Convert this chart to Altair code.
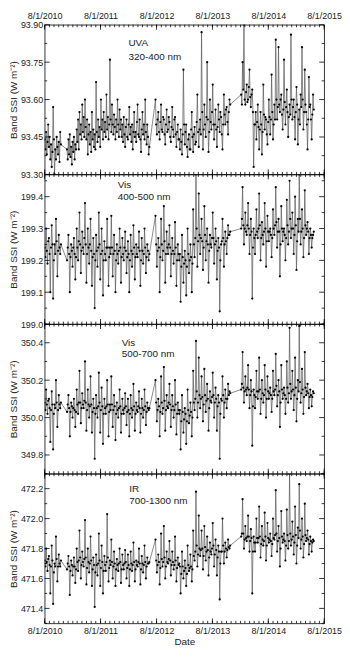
import altair as alt
import pandas as pd

FONT = "Liberation Sans"
W, H = 282, 151

# Observation segments (start, end) - data gaps between them
segments = [("2010-08-01", "2010-11-15"), ("2010-12-25", "2012-06-15"),
            ("2012-07-25", "2013-11-25"), ("2014-02-05", "2015-05-25")]

# ---- UVA 320-400 nm (W m-2) ----
uva_a = [93.44, 93.40, 93.47, 93.38, 93.43, 93.50, 93.41, 93.45, 93.36, 93.42, 93.33, 93.39, 93.57, 93.44, 93.30, 93.40,
         93.36, 93.45, 93.41, 93.38, 93.43, 93.35, 93.47, 93.42]
uva_b = [93.40, 93.36, 93.44, 93.38, 93.46, 93.37, 93.41, 93.34, 93.43, 93.39, 93.45, 93.36, 93.42, 93.40,
         93.48, 93.43, 93.52, 93.40, 93.55, 93.46, 93.50, 93.44, 93.58, 93.47, 93.53, 93.45, 93.60, 93.49, 93.44, 93.52,
         93.38, 93.46, 93.50, 93.42, 93.47, 93.39, 93.55, 93.44, 93.48, 93.41,
         93.46, 93.40, 93.67, 93.47, 93.43, 93.52, 93.45, 93.49, 93.41, 93.60, 93.48, 93.52, 93.44, 93.55, 93.47, 93.51,
         93.45, 93.62, 93.48, 93.53, 93.44, 93.50, 93.76, 93.52,
         93.47, 93.58, 93.50, 93.46, 93.54, 93.49, 93.44, 93.52, 93.47, 93.60, 93.50, 93.45, 93.56, 93.48, 93.52, 93.45,
         93.50, 93.43, 93.53, 93.46, 93.41, 93.49, 93.52, 93.45,
         93.44, 93.50, 93.57, 93.46, 93.49, 93.43, 93.50, 93.40, 93.47, 93.55, 93.45, 93.47, 93.43, 93.51, 93.58, 93.46,
         93.45, 93.52, 93.44, 93.39, 93.48, 93.55, 93.46, 93.50, 93.44, 93.60, 93.47, 93.42, 93.50, 93.45, 93.38, 93.41]
uva_c = [93.60, 93.50, 93.46, 93.52, 93.55, 93.47, 93.44, 93.51, 93.58, 93.48, 93.47, 93.53, 93.52, 93.46, 93.42, 93.50,
         93.56, 93.47, 93.48, 93.53, 93.51, 93.45, 93.43, 93.49, 93.57, 93.48, 93.45, 93.52, 93.53, 93.46, 93.41, 93.47,
         93.50, 93.44,
         93.44, 93.40, 93.48, 93.43, 93.38, 93.46, 93.72, 93.50, 93.42, 93.47, 93.50, 93.41, 93.37, 93.44, 93.46, 93.40,
         93.40, 93.48, 93.55, 93.45, 93.39, 93.46, 93.49, 93.42, 93.43, 93.51, 93.62, 93.47, 93.41, 93.48,
         93.52, 93.46, 93.87, 93.55, 93.40, 93.48, 93.58, 93.50, 93.45, 93.53, 93.75, 93.52, 93.39, 93.47, 93.60, 93.51,
         93.48, 93.55, 93.66, 93.50,
         93.44, 93.50, 93.56, 93.48, 93.41, 93.49, 93.58, 93.52, 93.47, 93.55, 93.53, 93.46, 93.40, 93.50, 93.62, 93.54,
         93.50, 93.56, 93.57, 93.51, 93.46, 93.55, 93.60, 93.58]
uva_d = [93.62, 93.58, 93.75, 93.64, 93.90, 93.60, 93.58, 93.63, 93.66, 93.59, 93.60, 93.65, 93.72, 93.61, 93.57, 93.62,
         93.64, 93.55, 93.33, 93.50,
         93.50, 93.55, 93.44, 93.51, 93.58, 93.49, 93.40, 93.48, 93.55, 93.50, 93.38, 93.47, 93.66, 93.54, 93.48, 93.53,
         93.52, 93.46, 93.42, 93.51, 93.60, 93.53, 93.46, 93.52, 93.70, 93.55, 93.44, 93.50,
         93.58, 93.52, 93.84, 93.60, 93.52, 93.57, 93.81, 93.58, 93.55, 93.60, 93.62, 93.54, 93.48, 93.56, 93.76, 93.59,
         93.50, 93.57, 93.64, 93.55, 93.45, 93.53, 93.58, 93.54, 93.86, 93.60,
         93.52, 93.57, 93.60, 93.53, 93.44, 93.55, 93.65, 93.58, 93.42, 93.52, 93.56, 93.50, 93.62, 93.57, 93.81, 93.60,
         93.48, 93.55, 93.72, 93.58, 93.55, 93.50, 93.40, 93.52, 93.69, 93.57, 93.58, 93.52, 93.44, 93.54, 93.62, 93.56]

# ---- Vis 400-500 nm ----
vb_a = [199.24, 199.21, 199.30, 199.23, 199.19, 199.26, 199.27, 199.22, 199.10, 199.24, 199.31, 199.25, 199.08, 199.20,
        199.25, 199.22, 199.33, 199.26, 199.15, 199.23, 199.28, 199.24, 199.22, 199.25]
vb_b = [199.20, 199.24, 199.28, 199.22, 199.10, 199.21, 199.25, 199.23, 199.18, 199.24, 199.27, 199.22, 199.14, 199.21,
        199.30, 199.24, 199.20, 199.26, 199.35, 199.25, 199.16, 199.23, 199.29, 199.24, 199.22, 199.27, 199.38, 199.25,
        199.13, 199.22, 199.30, 199.24, 199.19, 199.25, 199.33, 199.23, 199.12, 199.21, 199.27, 199.22,
        199.05, 199.20, 199.28, 199.23, 199.18, 199.24, 199.35, 199.25, 199.14, 199.22, 199.30, 199.23, 199.09, 199.20,
        199.26, 199.22, 199.20, 199.24, 199.33, 199.24, 199.12, 199.21, 199.24, 199.22,
        199.34, 199.24, 199.15, 199.22, 199.28, 199.23, 199.10, 199.20, 199.25, 199.22, 199.19, 199.23, 199.30, 199.24,
        199.13, 199.21, 199.27, 199.22, 199.20, 199.24, 199.29, 199.23, 199.16, 199.21,
        199.26, 199.22, 199.10, 199.20, 199.28, 199.23, 199.18, 199.22, 199.31, 199.24, 199.14, 199.21, 199.25, 199.22,
        199.21, 199.24, 199.29, 199.23, 199.12, 199.20, 199.27, 199.23, 199.19, 199.22, 199.30, 199.24, 199.16, 199.21,
        199.25, 199.23, 199.20, 199.22]
vb_c = [199.34, 199.25, 199.18, 199.23, 199.27, 199.24, 199.10, 199.21, 199.33, 199.25, 199.20, 199.23, 199.37, 199.26,
        199.13, 199.22, 199.29, 199.24, 199.22, 199.25, 199.31, 199.24, 199.15, 199.22, 199.27, 199.23, 199.19, 199.22,
        199.32, 199.24, 199.12, 199.20, 199.25, 199.22,
        199.20, 199.22, 199.07, 199.18, 199.28, 199.21, 199.13, 199.19, 199.23, 199.20, 199.09, 199.18, 199.30, 199.22,
        199.16, 199.20, 199.25, 199.21, 199.10, 199.19, 199.36, 199.25, 199.21, 199.27, 199.47, 199.30, 199.18, 199.26,
        199.41, 199.28,
        199.22, 199.27, 199.33, 199.26, 199.17, 199.24, 199.37, 199.28, 199.20, 199.26, 199.30, 199.25, 199.13, 199.23,
        199.28, 199.25, 199.24, 199.27, 199.35, 199.27,
        199.19, 199.25, 199.30, 199.26, 199.14, 199.23, 199.27, 199.24, 199.04, 199.20, 199.25, 199.26, 199.33, 199.27,
        199.18, 199.25, 199.29, 199.26, 199.22, 199.27, 199.31, 199.28, 199.28, 199.29]
vb_d = [199.30, 199.33, 199.43, 199.31, 199.25, 199.30, 199.35, 199.29, 199.28, 199.31, 199.38, 199.30, 199.22, 199.28,
        199.33, 199.29, 199.08, 199.24, 199.30, 199.27,
        199.22, 199.28, 199.36, 199.29, 199.27, 199.30, 199.41, 199.31, 199.20, 199.27, 199.32, 199.28, 199.25, 199.29,
        199.38, 199.30, 199.18, 199.26, 199.34, 199.29, 199.26, 199.29, 199.30, 199.28, 199.21, 199.27, 199.36, 199.30,
        199.28, 199.31, 199.43, 199.32, 199.24, 199.29, 199.33, 199.29, 199.15, 199.25, 199.37, 199.30, 199.26, 199.29,
        199.30, 199.28, 199.20, 199.27, 199.39, 199.31, 199.25, 199.29, 199.45, 199.33, 199.27, 199.30,
        199.35, 199.30, 199.22, 199.28, 199.40, 199.31, 199.17, 199.26, 199.33, 199.29, 199.47, 199.33, 199.25, 199.29,
        199.36, 199.30, 199.21, 199.27, 199.42, 199.31, 199.28, 199.30, 199.32, 199.29, 199.22, 199.27, 199.30, 199.28,
        199.24, 199.27, 199.28, 199.29]

# ---- Vis 500-700 nm ----
vr_a = [350.08, 350.04, 350.15, 350.07, 350.02, 350.09, 350.10, 350.05, 349.87, 350.04, 350.14, 350.07, 349.83, 350.02,
        350.07, 350.05, 350.20, 350.08, 349.95, 350.04, 350.12, 350.07, 350.05, 350.08]
vr_b = [350.03, 350.07, 350.12, 350.05, 349.90, 350.03, 350.08, 350.06, 350.00, 350.05, 350.10, 350.04, 349.95, 350.03,
        350.15, 350.07, 350.02, 350.08, 350.25, 350.08, 349.97, 350.05, 350.13, 350.07, 350.05, 350.09, 350.30, 350.08,
        349.93, 350.04, 350.15, 350.07, 350.00, 350.06, 350.22, 350.07, 349.92, 350.03, 350.10, 350.05,
        349.78, 350.02, 350.12, 350.05, 350.00, 350.06, 350.24, 350.08, 349.92, 350.04, 350.16, 350.06, 349.86, 350.02,
        350.10, 350.05, 350.02, 350.06, 350.20, 350.07, 349.90, 350.03, 350.07, 350.04,
        350.22, 350.07, 349.95, 350.04, 350.12, 350.06, 349.88, 350.02, 350.08, 350.04, 350.00, 350.05, 350.15, 350.06,
        349.92, 350.02, 350.10, 350.04, 350.02, 350.05, 350.13, 350.06, 349.96, 350.03,
        350.10, 350.04, 349.90, 350.02, 350.12, 350.05, 350.00, 350.04, 350.18, 350.06, 349.93, 350.02, 350.08, 350.04,
        350.03, 350.06, 350.14, 350.05, 349.92, 350.02, 350.10, 350.05, 350.00, 350.04, 350.15, 350.06, 349.96, 350.03,
        350.08, 350.05, 350.04, 350.05]
vr_c = [350.20, 350.08, 349.98, 350.04, 350.10, 350.06, 349.90, 350.03, 350.22, 350.08, 350.02, 350.05, 350.27, 350.09,
        349.93, 350.04, 350.12, 350.06, 350.05, 350.08, 350.18, 350.07, 349.95, 350.04, 350.12, 350.06, 350.00, 350.04,
        350.20, 350.07, 349.91, 350.02, 350.08, 350.04,
        350.02, 350.04, 349.83, 349.98, 350.12, 350.03, 349.92, 349.99, 350.05, 350.02, 349.86, 349.98, 350.15, 350.04,
        349.97, 350.01, 350.08, 350.03, 349.90, 350.00, 350.25, 350.08, 350.04, 350.10, 350.41, 350.14, 350.00, 350.08,
        350.32, 350.12,
        350.05, 350.10, 350.22, 350.11, 349.98, 350.07, 350.26, 350.12, 350.03, 350.09, 350.18, 350.10, 349.93, 350.05,
        350.14, 350.09, 350.08, 350.11, 350.24, 350.12,
        350.00, 350.08, 350.16, 350.10, 349.93, 350.06, 350.12, 350.08, 349.78, 350.02, 350.10, 350.09, 350.22, 350.12,
        350.00, 350.08, 350.15, 350.10, 350.05, 350.10, 350.18, 350.12, 350.14, 350.13]
vr_d = [350.15, 350.18, 350.35, 350.16, 350.08, 350.14, 350.22, 350.15, 350.12, 350.16, 350.28, 350.15, 350.05, 350.12,
        350.20, 350.14, 349.85, 350.06, 350.15, 350.12,
        350.05, 350.11, 350.25, 350.14, 350.10, 350.14, 350.32, 350.15, 350.02, 350.10, 350.20, 350.13, 350.08, 350.12,
        350.28, 350.15, 350.00, 350.10, 350.22, 350.14, 350.10, 350.13, 350.16, 350.12, 350.03, 350.10, 350.25, 350.14,
        350.12, 350.15, 350.34, 350.17, 350.06, 350.12, 350.20, 350.14, 349.95, 350.08, 350.28, 350.15, 350.10, 350.13,
        350.16, 350.12, 350.02, 350.10, 350.30, 350.16, 350.08, 350.13, 350.48, 350.18, 350.10, 350.14,
        350.25, 350.15, 350.04, 350.12, 350.32, 350.16, 349.98, 350.10, 350.20, 350.14, 350.49, 350.19, 350.08, 350.13,
        350.26, 350.15, 350.02, 350.11, 350.35, 350.16, 350.12, 350.14, 350.18, 350.13, 350.05, 350.11, 350.15, 350.12,
        350.06, 350.11, 350.14, 350.13]

# ---- IR 700-1300 nm ----
ir_a = [471.72, 471.68, 471.80, 471.71, 471.65, 471.73, 471.75, 471.69, 471.50, 471.68, 471.82, 471.72, 471.43, 471.64,
        471.70, 471.68, 471.88, 471.73, 471.58, 471.68, 471.76, 471.70, 471.68, 471.72]
ir_b = [471.66, 471.70, 471.75, 471.68, 471.49, 471.65, 471.72, 471.69, 471.62, 471.68, 471.74, 471.68, 471.57, 471.66,
        471.80, 471.71, 471.65, 471.72, 471.92, 471.74, 471.60, 471.69, 471.78, 471.71, 471.68, 471.73, 471.99, 471.74,
        471.56, 471.67, 471.80, 471.71, 471.64, 471.70, 471.88, 471.72, 471.55, 471.66, 471.74, 471.69,
        471.41, 471.64, 471.76, 471.69, 471.62, 471.70, 471.90, 471.72, 471.55, 471.67, 471.82, 471.71, 471.50, 471.65,
        471.75, 471.69, 471.65, 471.71, 472.03, 471.74, 471.58, 471.67, 471.72, 471.69,
        471.86, 471.71, 471.60, 471.68, 471.78, 471.70, 471.55, 471.66, 471.73, 471.69, 471.65, 471.70, 471.80, 471.71,
        471.57, 471.66, 471.76, 471.69, 471.66, 471.70, 471.79, 471.71, 471.60, 471.67,
        471.76, 471.69, 471.55, 471.66, 471.78, 471.70, 471.65, 471.69, 471.84, 471.71, 471.58, 471.66, 471.72, 471.69,
        471.68, 471.71, 471.80, 471.70, 471.56, 471.66, 471.75, 471.70, 471.64, 471.69, 471.82, 471.71, 471.60, 471.68,
        471.74, 471.70, 471.70, 471.71]
ir_c = [471.86, 471.72, 471.64, 471.69, 471.76, 471.71, 471.56, 471.67, 471.90, 471.73, 471.68, 471.71, 471.95, 471.74,
        471.60, 471.68, 471.78, 471.71, 471.70, 471.73, 471.85, 471.72, 471.62, 471.69, 471.78, 471.71, 471.66, 471.69,
        471.88, 471.72, 471.58, 471.67, 471.74, 471.69,
        471.70, 471.68, 471.50, 471.63, 471.78, 471.68, 471.60, 471.65, 471.72, 471.67, 471.55, 471.63, 471.82, 471.69,
        471.65, 471.67, 471.76, 471.68, 471.58, 471.66, 471.92, 471.75, 471.72, 471.78, 472.18, 471.82, 471.68, 471.76,
        472.02, 471.80,
        471.75, 471.79, 471.92, 471.80, 471.66, 471.75, 471.95, 471.81, 471.72, 471.78, 471.88, 471.79, 471.62, 471.74,
        471.84, 471.78, 471.76, 471.80, 471.97, 471.82,
        471.68, 471.76, 471.86, 471.79, 471.62, 471.74, 471.82, 471.78, 471.46, 471.70, 471.78, 471.78, 472.00, 471.82,
        471.70, 471.78, 471.84, 471.80, 471.74, 471.79, 471.86, 471.81, 471.80, 471.82]
ir_d = [471.88, 471.90, 472.13, 471.90, 471.80, 471.86, 471.95, 471.87, 471.85, 471.88, 472.02, 471.88, 471.78, 471.85,
        471.93, 471.87, 471.50, 471.78, 471.88, 471.84,
        471.78, 471.84, 472.00, 471.87, 471.84, 471.87, 472.08, 471.88, 471.74, 471.83, 471.95, 471.86, 471.82, 471.85,
        472.04, 471.88, 471.72, 471.82, 471.97, 471.87, 471.84, 471.86, 471.90, 471.85, 471.75, 471.83, 472.00, 471.87,
        471.86, 471.89, 472.19, 471.90, 471.78, 471.85, 471.95, 471.87, 471.68, 471.80, 472.05, 471.88, 471.84, 471.86,
        471.90, 471.85, 471.72, 471.82, 472.06, 471.89, 471.80, 471.85, 472.30, 471.90, 471.82, 471.86,
        471.98, 471.88, 471.76, 471.84, 472.08, 471.89, 471.70, 471.82, 471.94, 471.87, 472.23, 471.92, 471.80, 471.86,
        472.00, 471.88, 471.74, 471.83, 472.10, 471.89, 471.85, 471.87, 471.92, 471.86, 471.76, 471.83, 471.88, 471.85,
        471.78, 471.84, 471.86, 471.85]

# Axis tick values
year_labels = [2010, 2011, 2012, 2013, 2014, 2015]
uva_major = [93.30, 93.45, 93.60, 93.75, 93.90]
uva_minor = [93.375, 93.525, 93.675, 93.825]
vb_major = [199.0, 199.1, 199.2, 199.3, 199.4]
vb_minor = [199.05, 199.15, 199.25, 199.35, 199.45]
vr_major = [349.8, 350.0, 350.2, 350.4]
vr_minor = [349.7, 349.9, 350.1, 350.3, 350.5]
ir_major = [471.4, 471.6, 471.8, 472.0, 472.2]
ir_minor = [471.3, 471.5, 471.7, 471.9, 472.1, 472.3]


def build_frame(parts):
    frames = []
    for (start, end), vals in zip(segments, parts):
        frames.append(pd.DataFrame({"date": pd.date_range(start, end, periods=len(vals)), "value": vals}))
    return pd.concat(frames, ignore_index=True)


xscale = alt.Scale(domain=[alt.DateTime(year=2010, month=8, date=1), alt.DateTime(year=2015, month=8, date=1)], nice=False)
major_dt = [alt.DateTime(year=y, month=8, date=1) for y in year_labels]
minor_dates = pd.date_range("2010-08-01", "2015-08-01", freq="MS")
major_dates = pd.to_datetime([f"{y}-08-01" for y in year_labels])


def panel(parts, domain, major, minor, fmt, label1, label2, label_date, y1, y2, xpos):
    df = build_frame(parts)
    yscale = alt.Scale(domain=domain, nice=False, zero=False)
    yaxis = alt.Axis(values=major, format=fmt, ticks=False, domain=False, grid=False,
                     title="Band SSI (W m⁻²)", titleFontSize=10, titleFontWeight="normal", titlePadding=2,
                     labelFontSize=9, labelPadding=2, labelFlush=False, labelOverlap=False)
    common = dict(values=major_dt, format="%-m/%-d/%Y", ticks=False, domain=False, grid=False,
                  labelFontSize=9, labelFlush=False, labelOverlap=False)
    if xpos == "top":
        xaxis = alt.Axis(orient="top", title=None, labelPadding=4, **common)
    elif xpos == "bottom":
        xaxis = alt.Axis(orient="bottom", title="Date", titleFontSize=10, titleFontWeight="normal",
                         titlePadding=1, labelPadding=3, **common)
    else:
        xaxis = None

    # the same axis definitions are given to every layer so that they merge without conflict
    def X():
        return alt.X("date:T", scale=xscale, axis=xaxis)

    def Y():
        return alt.Y("value:Q", scale=yscale, axis=yaxis)

    line = alt.Chart(df).mark_line(color="#555555", strokeWidth=0.7, clip=True).encode(x=X(), y=Y())
    pts = alt.Chart(df).mark_circle(color="black", size=5, opacity=1, clip=True).encode(x=X(), y=Y())

    layers = [line, pts]
    for dates, ln in ((minor_dates, 2.5), (major_dates, 5)):
        tdf = pd.DataFrame({"date": dates})
        base = alt.Chart(tdf).mark_rule(color="black", strokeWidth=0.8)
        layers.append(base.encode(x=X(), y=alt.value(0), y2=alt.value(ln)))
        layers.append(base.encode(x=X(), y=alt.value(H), y2=alt.value(H - ln)))
    for vals, ln in ((minor, 2.5), (major, 5)):
        tdf = pd.DataFrame({"value": vals})
        base = alt.Chart(tdf).mark_rule(color="black", strokeWidth=0.8)
        layers.append(base.encode(y=Y(), x=alt.value(0), x2=alt.value(ln)))
        layers.append(base.encode(y=Y(), x=alt.value(W), x2=alt.value(W - ln)))

    lab = pd.DataFrame({"date": pd.to_datetime([label_date, label_date]), "value": [y1, y2], "label": [label1, label2]})
    layers.append(alt.Chart(lab).mark_text(align="left", baseline="middle", fontSize=10, font=FONT, color="#222").encode(
        x=X(), y=Y(), text="label:N"))
    return alt.layer(*layers).properties(width=W, height=H)


p1 = panel([uva_a, uva_b, uva_c, uva_d], [93.30, 93.90], uva_major, uva_minor, ".2f",
           "UVA", "320-400 nm", "2012-01-30", 93.826, 93.772, "top")
p2 = panel([vb_a, vb_b, vb_c, vb_d], [199.0, 199.47], vb_major, vb_minor, ".1f",
           "Vis", "400-500 nm", "2011-11-21", 199.437, 199.398, None)
p3 = panel([vr_a, vr_b, vr_c, vr_d], [349.7, 350.5], vr_major, vr_minor, ".1f",
           "Vis", "500-700 nm", "2011-12-17", 350.40, 350.34, None)
p4 = panel([ir_a, ir_b, ir_c, ir_d], [471.3, 472.3], ir_major, ir_minor, ".1f",
           "IR", "700-1300 nm", "2012-02-04", 472.20, 472.118, "bottom")

chart = alt.vconcat(p1, p2, p3, p4, spacing=0, bounds="flush").properties(
    padding={"left": 0, "top": 0, "right": 0, "bottom": 0}
).configure(font=FONT).configure_view(stroke="black", strokeWidth=0.8).configure_axis(
    labelColor="#222", titleColor="#222", labelFont=FONT, titleFont=FONT)

chart.save("out.html", embed_options={"renderer": "svg", "actions": False})
